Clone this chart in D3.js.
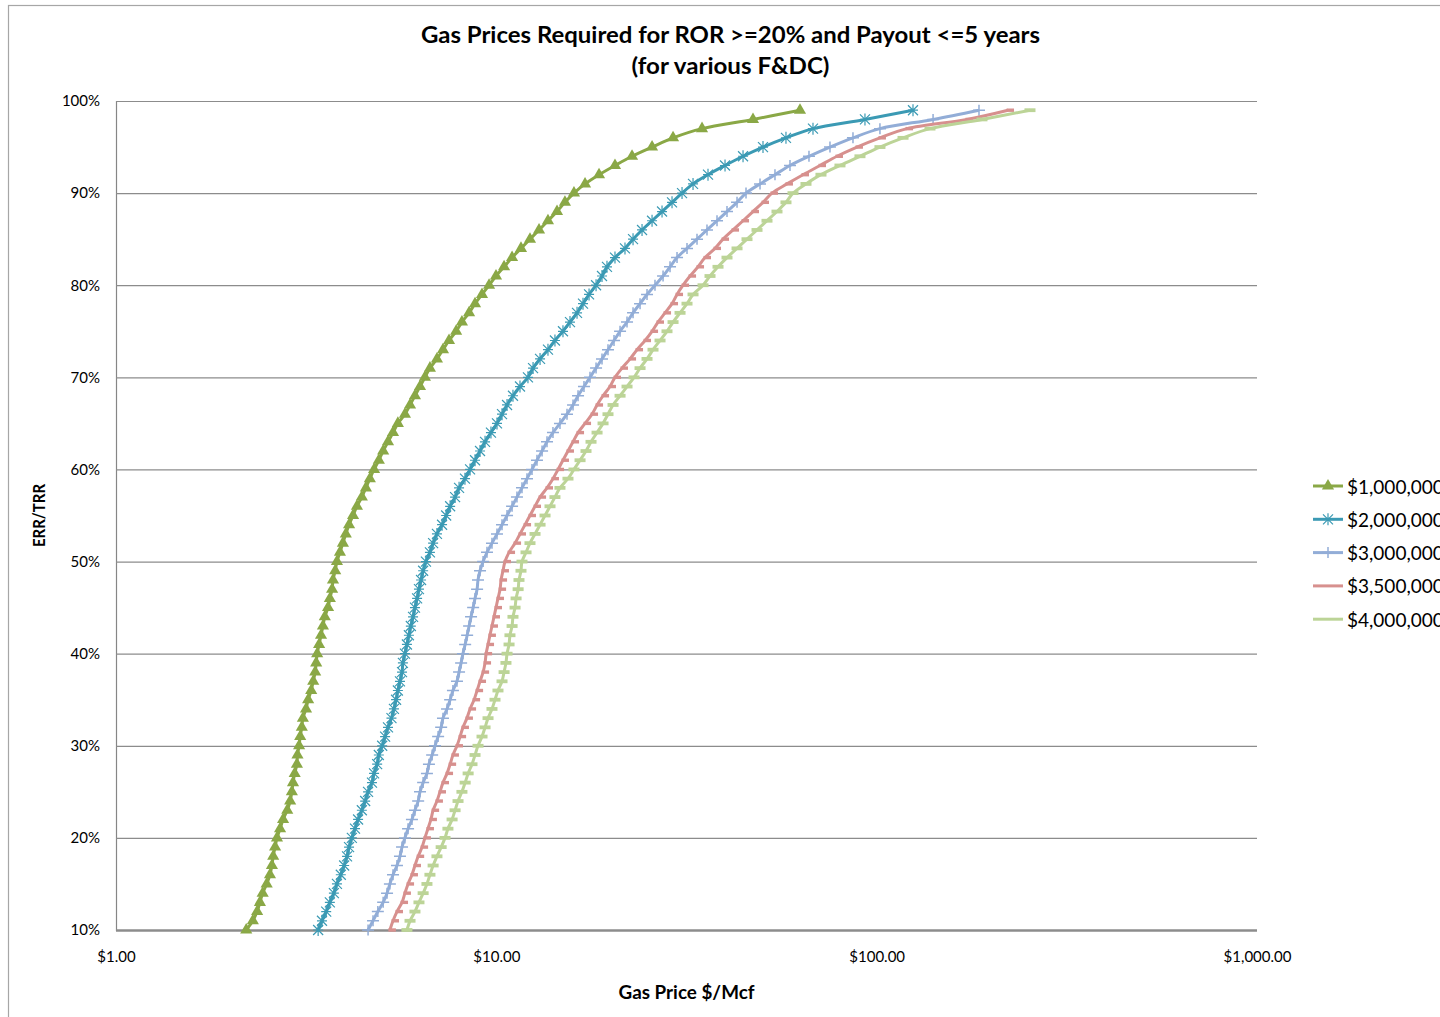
<!DOCTYPE html>
<html>
<head>
<meta charset="utf-8">
<title>Gas Prices Required for ROR >=20% and Payout <=5 years</title>
<script src="https://cdn.jsdelivr.net/npm/d3@7"></script>
<style>
  body { margin: 0; background: #ffffff; }
  svg { display: block; }
  text { font-family: Lato, "Open Sans", "DejaVu Sans", sans-serif; fill: #000; }
</style>
</head>
<body>
<svg id="chart" width="1440" height="1017"></svg>
<script>
// ERR/TRR levels (percent) at which each price was computed
const errTrrPct = [
  10, 11, 12, 13, 14, 15, 16, 17, 18, 19,
  20, 21, 22, 23, 24, 25, 26, 27, 28, 29,
  30, 31, 32, 33, 34, 35, 36, 37, 38, 39,
  40, 41, 42, 43, 44, 45, 46, 47, 48, 49,
  50, 51, 52, 53, 54, 55, 56, 57, 58, 59,
  60, 61, 62, 63, 64, 65, 66, 67, 68, 69,
  70, 71, 72, 73, 74, 75, 76, 77, 78, 79,
  80, 81, 82, 83, 84, 85, 86, 87, 88, 89,
  90, 91, 92, 93, 94, 95, 96, 97, 98, 99
];

// Required gas price ($/Mcf) for each F&DC case
const price1M = [
  2.20, 2.29, 2.35, 2.39, 2.43, 2.49, 2.54, 2.57, 2.59, 2.62,
  2.65, 2.70, 2.75, 2.82, 2.87, 2.90, 2.92, 2.95, 2.99, 3.00,
  3.03, 3.05, 3.08, 3.10, 3.16, 3.20, 3.26, 3.30, 3.34, 3.36,
  3.38, 3.42, 3.46, 3.50, 3.54, 3.61, 3.65, 3.70, 3.72, 3.77,
  3.81, 3.88, 3.95, 4.02, 4.10, 4.20, 4.30, 4.43, 4.54, 4.65,
  4.77, 4.91, 5.04, 5.19, 5.35, 5.51, 5.75, 5.93, 6.11, 6.30,
  6.49, 6.69, 6.98, 7.24, 7.51, 7.84, 8.12, 8.48, 8.79, 9.17,
  9.57, 9.98, 10.48, 11.00, 11.61, 12.26, 12.95, 13.67, 14.44, 15.15,
  16.00, 17.11, 18.62, 20.51, 22.74, 25.67, 29.15, 34.74, 47.30, 62.86
];
const price2M = [
  3.40, 3.48, 3.57, 3.65, 3.74, 3.81, 3.90, 3.98, 4.05, 4.10,
  4.17, 4.25, 4.33, 4.43, 4.52, 4.60, 4.71, 4.77, 4.86, 4.91,
  5.01, 5.10, 5.19, 5.30, 5.38, 5.45, 5.51, 5.58, 5.65, 5.68,
  5.75, 5.82, 5.89, 5.96, 6.04, 6.11, 6.19, 6.26, 6.34, 6.42,
  6.53, 6.69, 6.82, 6.98, 7.20, 7.38, 7.56, 7.79, 7.98, 8.27,
  8.53, 8.79, 9.06, 9.34, 9.68, 10.04, 10.35, 10.67, 11.06, 11.54,
  12.11, 12.49, 13.03, 13.67, 14.26, 14.97, 15.62, 16.30, 16.90, 17.53,
  18.29, 18.96, 19.54, 20.51, 21.79, 22.88, 24.16, 25.67, 27.27, 28.97,
  30.78, 32.90, 36.02, 39.93, 44.53, 50.25, 57.75, 68.01, 93.16, 124.6
];
const price3M = [
  4.60, 4.74, 4.88, 5.04, 5.16, 5.25, 5.35, 5.48, 5.58, 5.65,
  5.75, 5.86, 6.00, 6.11, 6.23, 6.30, 6.42, 6.57, 6.65, 6.78,
  6.90, 7.03, 7.16, 7.24, 7.42, 7.56, 7.69, 7.88, 7.98, 8.08,
  8.17, 8.28, 8.38, 8.48, 8.58, 8.69, 8.79, 8.90, 8.95, 9.06,
  9.23, 9.45, 9.74, 10.04, 10.35, 10.67, 11.00, 11.33, 11.68, 12.04,
  12.41, 12.79, 13.19, 13.59, 14.09, 14.70, 15.34, 15.91, 16.40, 17.00,
  17.63, 18.29, 18.96, 19.66, 20.39, 21.15, 22.06, 22.88, 23.87, 24.90,
  26.13, 27.44, 28.62, 29.86, 31.72, 33.70, 35.80, 38.04, 40.41, 42.94,
  45.34, 49.35, 54.03, 59.17, 66.38, 75.38, 86.64, 102.0, 140.7, 185.8
];
const price3_5M = [
  5.25, 5.35, 5.48, 5.65, 5.75, 5.86, 6.00, 6.11, 6.23, 6.38,
  6.49, 6.61, 6.73, 6.82, 6.98, 7.11, 7.24, 7.42, 7.56, 7.69,
  7.88, 8.03, 8.17, 8.37, 8.53, 8.74, 8.90, 9.06, 9.23, 9.34,
  9.40, 9.51, 9.62, 9.74, 9.86, 9.98, 10.10, 10.23, 10.29, 10.41,
  10.54, 10.80, 11.20, 11.54, 11.90, 12.26, 12.64, 13.03, 13.59, 14.09,
  14.53, 14.97, 15.43, 15.91, 16.40, 17.11, 17.85, 18.40, 19.08, 19.90,
  20.51, 21.40, 22.47, 23.44, 24.60, 25.67, 26.61, 27.77, 28.97, 29.86,
  30.97, 32.31, 33.91, 35.37, 37.58, 39.45, 41.91, 44.53, 47.30, 50.25,
  53.06, 58.10, 64.02, 70.95, 78.64, 88.75, 102.0, 120.2, 172.8, 221.5
];
const price4M = [
  5.82, 5.93, 6.11, 6.26, 6.42, 6.57, 6.69, 6.82, 6.98, 7.16,
  7.33, 7.46, 7.65, 7.79, 7.93, 8.12, 8.28, 8.43, 8.63, 8.79,
  8.95, 9.17, 9.34, 9.51, 9.74, 9.92, 10.10, 10.35, 10.48, 10.60,
  10.67, 10.80, 10.86, 11.00, 11.06, 11.20, 11.27, 11.41, 11.47, 11.61,
  11.68, 11.97, 12.26, 12.64, 13.03, 13.43, 13.84, 14.26, 14.70, 15.43,
  16.00, 16.60, 17.21, 17.74, 18.40, 19.08, 19.66, 20.27, 21.15, 22.06,
  23.02, 23.87, 24.90, 25.82, 26.94, 28.10, 29.15, 30.41, 31.72, 32.90,
  34.95, 36.46, 38.27, 40.41, 42.94, 45.61, 48.46, 51.48, 54.69, 57.75,
  60.26, 65.19, 71.38, 80.08, 90.38, 102.0, 117.3, 138.1, 189.2, 253.0
];

const seriesNames = ["$1,000,000", "$2,000,000", "$3,000,000", "$3,500,000", "$4,000,000"];
const seriesValues = [price1M, price2M, price3M, price3_5M, price4M];
const seriesColors = ["#8aa846", "#3b9ab4", "#92add7", "#d7908e", "#bcd497"];
const seriesMarkers = ["triangle", "star", "plus", "dash", "longdash"];

const xTickValues = [1, 10, 100, 1000];
const yTickValues = [10, 20, 30, 40, 50, 60, 70, 80, 90, 100];

const chartTitle = ["Gas Prices Required for ROR >=20% and Payout <=5 years", "(for various F&DC)"];
const xAxisTitle = "Gas Price $/Mcf";
const yAxisTitle = "ERR/TRR";

// ---- layout ----
const plot = { left: 116, right: 1257, top: 101, bottom: 930 };

const svg = d3.select("#chart");

// chart area frame (extends past the right/bottom of the page)
svg.append("rect")
  .attr("x", 8.5).attr("y", 5.5)
  .attr("width", 1460).attr("height", 1040)
  .attr("fill", "#ffffff")
  .attr("stroke", "#a6a6a6")
  .attr("stroke-width", 1.2);

const x = d3.scaleLog().domain([1, 1000]).range([plot.left, plot.right]);
const y = d3.scaleLinear().domain([10, 100]).range([plot.bottom, plot.top]);

// horizontal gridlines + y tick labels
const yAxis = d3.axisLeft(y)
  .tickValues(yTickValues)
  .tickSize(-(plot.right - plot.left))
  .tickPadding(16)
  .tickFormat(d => d + "%");
const gy = svg.append("g")
  .attr("transform", `translate(${plot.left},0)`)
  .call(yAxis);
gy.select(".domain").attr("stroke", "#868686").attr("stroke-width", 1.2);
gy.selectAll(".tick line")
  .attr("stroke", "#8c8c8c")
  .attr("stroke-width", d => d === 10 ? 2.4 : 1.2);
gy.selectAll(".tick text")
  .attr("font-size", 15)
  .attr("font-family", "Lato, sans-serif")
  .attr("fill", "#000");

// x axis labels (log scale, currency)
const xAxis = d3.axisBottom(x)
  .tickValues(xTickValues)
  .tickSize(0)
  .tickPadding(21)
  .tickFormat(d3.format("$,.2f"));
const gx = svg.append("g")
  .attr("transform", `translate(0,${plot.bottom})`)
  .call(xAxis);
gx.select(".domain").remove();
gx.selectAll(".tick text")
  .attr("font-size", 15)
  .attr("font-family", "Lato, sans-serif")
  .attr("fill", "#000");

// marker shapes
function drawMarker(g, kind, color) {
  if (kind === "triangle") {
    g.append("path")
      .attr("d", d3.symbol(d3.symbolTriangle, 64)())
      .attr("fill", color);
  } else if (kind === "star") {
    g.append("path")
      .attr("d", "M0,-6V6M-5,-5L5,5M-5,5L5,-5M-5,0H5")
      .attr("stroke", color).attr("stroke-width", 1.2).attr("fill", "none");
  } else if (kind === "plus") {
    g.append("path")
      .attr("d", "M-6,0H6M0,-5.5V5.5")
      .attr("stroke", color).attr("stroke-width", 1.5).attr("fill", "none");
  } else if (kind === "dash") {
    g.append("rect")
      .attr("x", -1.5).attr("y", -1.7).attr("width", 7.5).attr("height", 3.4)
      .attr("fill", color);
  } else if (kind === "longdash") {
    g.append("rect")
      .attr("x", -5.5).attr("y", -1.9).attr("width", 11).attr("height", 3.8)
      .attr("fill", color);
  }
}

// series lines and markers
const line = d3.line()
  .x(d => x(d.price))
  .y(d => y(d.pct))
  .curve(d3.curveCatmullRom.alpha(0.5));

seriesValues.forEach((vals, i) => {
  const pts = vals.map((v, j) => ({ price: v, pct: errTrrPct[j] }));
  const g = svg.append("g").attr("class", "series");
  g.append("path")
    .datum(pts)
    .attr("d", line)
    .attr("fill", "none")
    .attr("stroke", seriesColors[i])
    .attr("stroke-width", 3)
    .attr("stroke-linejoin", "round");
  g.selectAll("g.mark")
    .data(pts)
    .join("g")
    .attr("class", "mark")
    .attr("transform", d => `translate(${x(d.price)},${y(d.pct)})`)
    .each(function () { drawMarker(d3.select(this), seriesMarkers[i], seriesColors[i]); });
});

// title
const title = svg.append("text")
  .attr("text-anchor", "middle")
  .attr("font-size", 23)
  .attr("font-weight", "bold");
title.append("tspan").attr("x", 730.5).attr("y", 43)
  .attr("textLength", 619).attr("lengthAdjust", "spacingAndGlyphs")
  .text(chartTitle[0]);
title.append("tspan").attr("x", 730.5).attr("y", 74)
  .attr("textLength", 198).attr("lengthAdjust", "spacingAndGlyphs")
  .text(chartTitle[1]);

// axis titles
svg.append("text")
  .attr("x", (plot.left + plot.right) / 2).attr("y", 999)
  .attr("text-anchor", "middle")
  .attr("font-size", 18)
  .attr("font-weight", "bold")
  .attr("textLength", 136).attr("lengthAdjust", "spacingAndGlyphs")
  .text(xAxisTitle);

svg.append("text")
  .attr("transform", `translate(45,${(plot.top + plot.bottom) / 2}) rotate(-90)`)
  .attr("text-anchor", "middle")
  .attr("font-size", 17)
  .attr("font-weight", "bold")
  .attr("textLength", 63).attr("lengthAdjust", "spacingAndGlyphs")
  .text(yAxisTitle);

// legend
const legend = svg.append("g").attr("transform", "translate(1313,486)");
seriesNames.forEach((name, i) => {
  const row = legend.append("g").attr("transform", `translate(0,${i * 33.3})`);
  row.append("line")
    .attr("x1", 0).attr("x2", 30).attr("y1", 0).attr("y2", 0)
    .attr("stroke", seriesColors[i]).attr("stroke-width", 3);
  const m = row.append("g").attr("transform", "translate(15,0)");
  if (i < 3) drawMarker(m, seriesMarkers[i], seriesColors[i]);
  row.append("text")
    .attr("x", 34).attr("y", 0)
    .attr("dominant-baseline", "central")
    .attr("font-size", 19)
    .text(name);
});
</script>
</body>
</html>
